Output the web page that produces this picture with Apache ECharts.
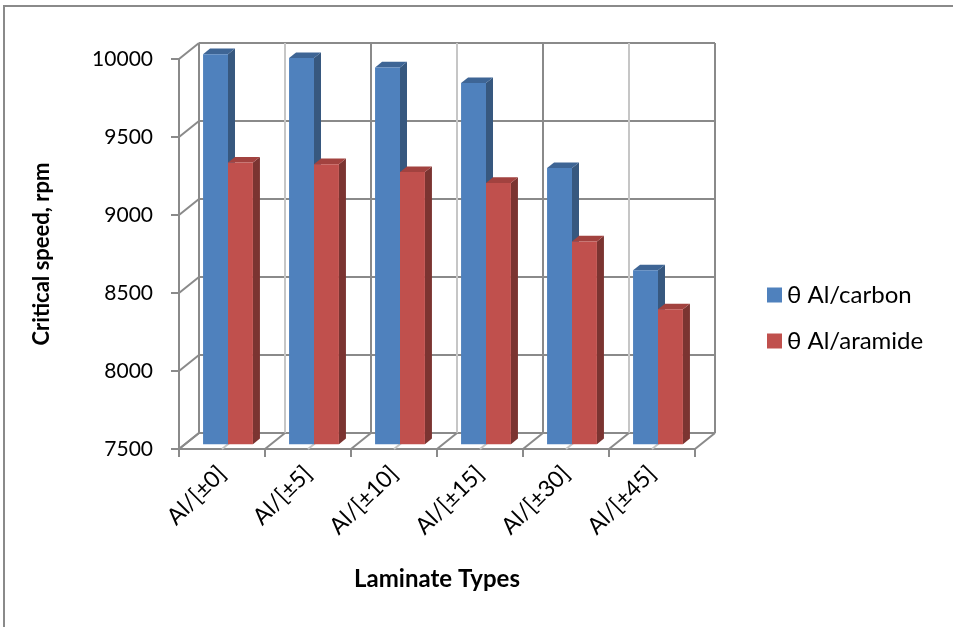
<!DOCTYPE html>
<html>
<head>
<meta charset="utf-8">
<script src="https://cdn.jsdelivr.net/npm/echarts@6/dist/echarts.min.js"></script>
<style>
  html, body { margin: 0; padding: 0; background: #fff; }
  #chart { width: 953px; height: 627px; }
</style>
</head>
<body>
<div id="chart"></div>
<script>
// data
const categories = ['Al/[±0]', 'Al/[±5]', 'Al/[±10]', 'Al/[±15]', 'Al/[±30]', 'Al/[±45]']
const carbon = [10000, 9975, 9915, 9815, 9270, 8615]
const aramide = [9305, 9295, 9245, 9175, 8800, 8365]
const yTicks = [7500, 8000, 8500, 9000, 9500, 10000]
const seriesNames = ['θ Al/carbon', 'θ Al/aramide']
// back wall has a line at every half category
const halfCats = categories.flatMap(c => [c + '_a', c + '_b'])

const yMin = 7500
const yMax = 10000
const DX = 20, DY = -16        // depth of the 3d box
const BAR_PLANE = 0.3          // where the bar front faces sit
const BAR_DEPTH = 0.35
const DARK = '#8a8a8a'
const LIGHT = '#c6c6c6'
const FONT = 'Lato, "Noto Sans", sans-serif'

const palette = {
  carbon: { front: '#4f81bd', top: '#3e6595', side: '#37587f' },
  aramide: { front: '#c0504d', top: '#a2423f', side: '#7b3431' }
}

const chart = echarts.init(document.getElementById('chart'))

// one 3d column
function columnRenderer(colors, leftSide) {
  return function (params, api) {
    const idx = api.value(0)
    const val = api.value(1)
    const base = api.coord([idx, yMin])
    const top = api.coord([idx, val])
    const band = api.size([1, 0])[0]
    const w = band * 0.29
    const ox = BAR_PLANE * DX, oy = BAR_PLANE * DY
    const dx = BAR_DEPTH * DX, dy = BAR_DEPTH * DY
    const x0 = base[0] + (leftSide ? -w : 0) + ox
    const x1 = x0 + w
    const yb = base[1] + oy
    const yt = top[1] + oy
    return {
      type: 'group',
      children: [
        {
          type: 'polygon',
          shape: { points: [[x1, yt], [x1 + dx, yt + dy], [x1 + dx, yb + dy], [x1, yb]] },
          style: { fill: colors.side }
        },
        {
          type: 'polygon',
          shape: { points: [[x0, yt], [x0 + dx, yt + dy], [x1 + dx, yt + dy], [x1, yt]] },
          style: { fill: colors.top }
        },
        {
          type: 'rect',
          shape: { x: x0, y: yt, width: w, height: yb - yt },
          style: { fill: colors.front }
        }
      ]
    }
  }
}

// floor and side wall lines
function frameRenderer(params, api) {
  const band = api.size([1, 0])[0]
  const children = []
  yTicks.forEach(v => {
    const p = api.coord([0, v])
    const x = p[0] - band / 2
    children.push({
      type: 'line',
      shape: { x1: x, y1: p[1], x2: x + DX, y2: p[1] + DY },
      style: { stroke: DARK, lineWidth: 2 }
    })
  })
  const b = api.coord([0, yMin])
  const left = b[0] - band / 2
  for (let i = 0; i <= categories.length * 2; i++) {
    const x = left + i * band / 2
    children.push({
      type: 'line',
      shape: { x1: x, y1: b[1], x2: x + DX, y2: b[1] + DY },
      style: { stroke: i % 2 === 0 ? DARK : LIGHT, lineWidth: 2 }
    })
  }
  return { type: 'group', children }
}

const option = {
  animation: false,
  backgroundColor: '#fff',
  graphic: [
    {
      type: 'rect',
      shape: { x: 4, y: 6, width: 1000, height: 700 },
      style: { fill: 'none', stroke: DARK, lineWidth: 2 },
      silent: true
    }
  ],
  legend: {
    data: seriesNames,
    orient: 'vertical',
    left: 762,
    top: 278,
    itemWidth: 15,
    itemHeight: 15,
    itemGap: 22,
    icon: 'rect',
    textStyle: { fontFamily: FONT, fontSize: 24, color: '#000' }
  },
  grid: [
    { left: 179, top: 59, width: 516, height: 390 },   // front plane
    { left: 199, top: 43, width: 516, height: 390 }    // back wall
  ],
  xAxis: [
    {
      type: 'category',
      gridIndex: 0,
      data: categories,
      boundaryGap: true,
      name: 'Laminate Types',
      nameLocation: 'middle',
      nameGap: 118,
      nameTextStyle: { fontFamily: FONT, fontSize: 24, fontWeight: 'bold', color: '#000' },
      axisLine: { show: true, lineStyle: { color: DARK, width: 2 } },
      axisTick: { show: true, length: 8, lineStyle: { color: DARK, width: 2 } },
      axisLabel: {
        rotate: 45,
        margin: 21,
        fontFamily: FONT,
        fontSize: 23,
        color: '#000'
      },
      splitLine: { show: false }
    },
    {
      type: 'category',
      gridIndex: 1,
      data: halfCats,
      boundaryGap: true,
      axisLine: { show: false },
      axisTick: { show: false },
      axisLabel: { show: false },
      splitLine: { show: true, lineStyle: { color: [DARK, LIGHT], width: 2 } }
    }
  ],
  yAxis: [
    {
      type: 'value',
      gridIndex: 0,
      min: yMin,
      max: yMax,
      interval: 500,
      name: 'Critical speed, rpm',
      nameLocation: 'middle',
      nameGap: 126,
      nameTextStyle: { fontFamily: FONT, fontSize: 22, fontWeight: 'bold', color: '#000' },
      axisLine: { show: true, lineStyle: { color: DARK, width: 2 } },
      axisTick: { show: true, length: 8, lineStyle: { color: DARK, width: 2 } },
      axisLabel: {
        margin: 26,
        fontFamily: FONT,
        fontSize: 21,
        color: '#000',
        formatter: v => String(v)
      },
      splitLine: { show: false }
    },
    {
      type: 'value',
      gridIndex: 1,
      min: yMin,
      max: yMax,
      interval: 500,
      axisLine: { show: false },
      axisTick: { show: false },
      axisLabel: { show: false },
      splitLine: { show: true, lineStyle: { color: DARK, width: 2 } }
    }
  ],
  series: [
    {
      name: 'frame',
      type: 'custom',
      xAxisIndex: 0,
      yAxisIndex: 0,
      z: 1,
      silent: true,
      data: [[0, yMin]],
      renderItem: frameRenderer
    },
    {
      name: seriesNames[0],
      type: 'custom',
      xAxisIndex: 0,
      yAxisIndex: 0,
      z: 3,
      itemStyle: { color: palette.carbon.front },
      data: carbon.map((v, i) => [i, v]),
      renderItem: columnRenderer(palette.carbon, true)
    },
    {
      name: seriesNames[1],
      type: 'custom',
      xAxisIndex: 0,
      yAxisIndex: 0,
      z: 3,
      itemStyle: { color: palette.aramide.front },
      data: aramide.map((v, i) => [i, v]),
      renderItem: columnRenderer(palette.aramide, false)
    }
  ]
}

chart.setOption(option)
</script>
</body>
</html>
